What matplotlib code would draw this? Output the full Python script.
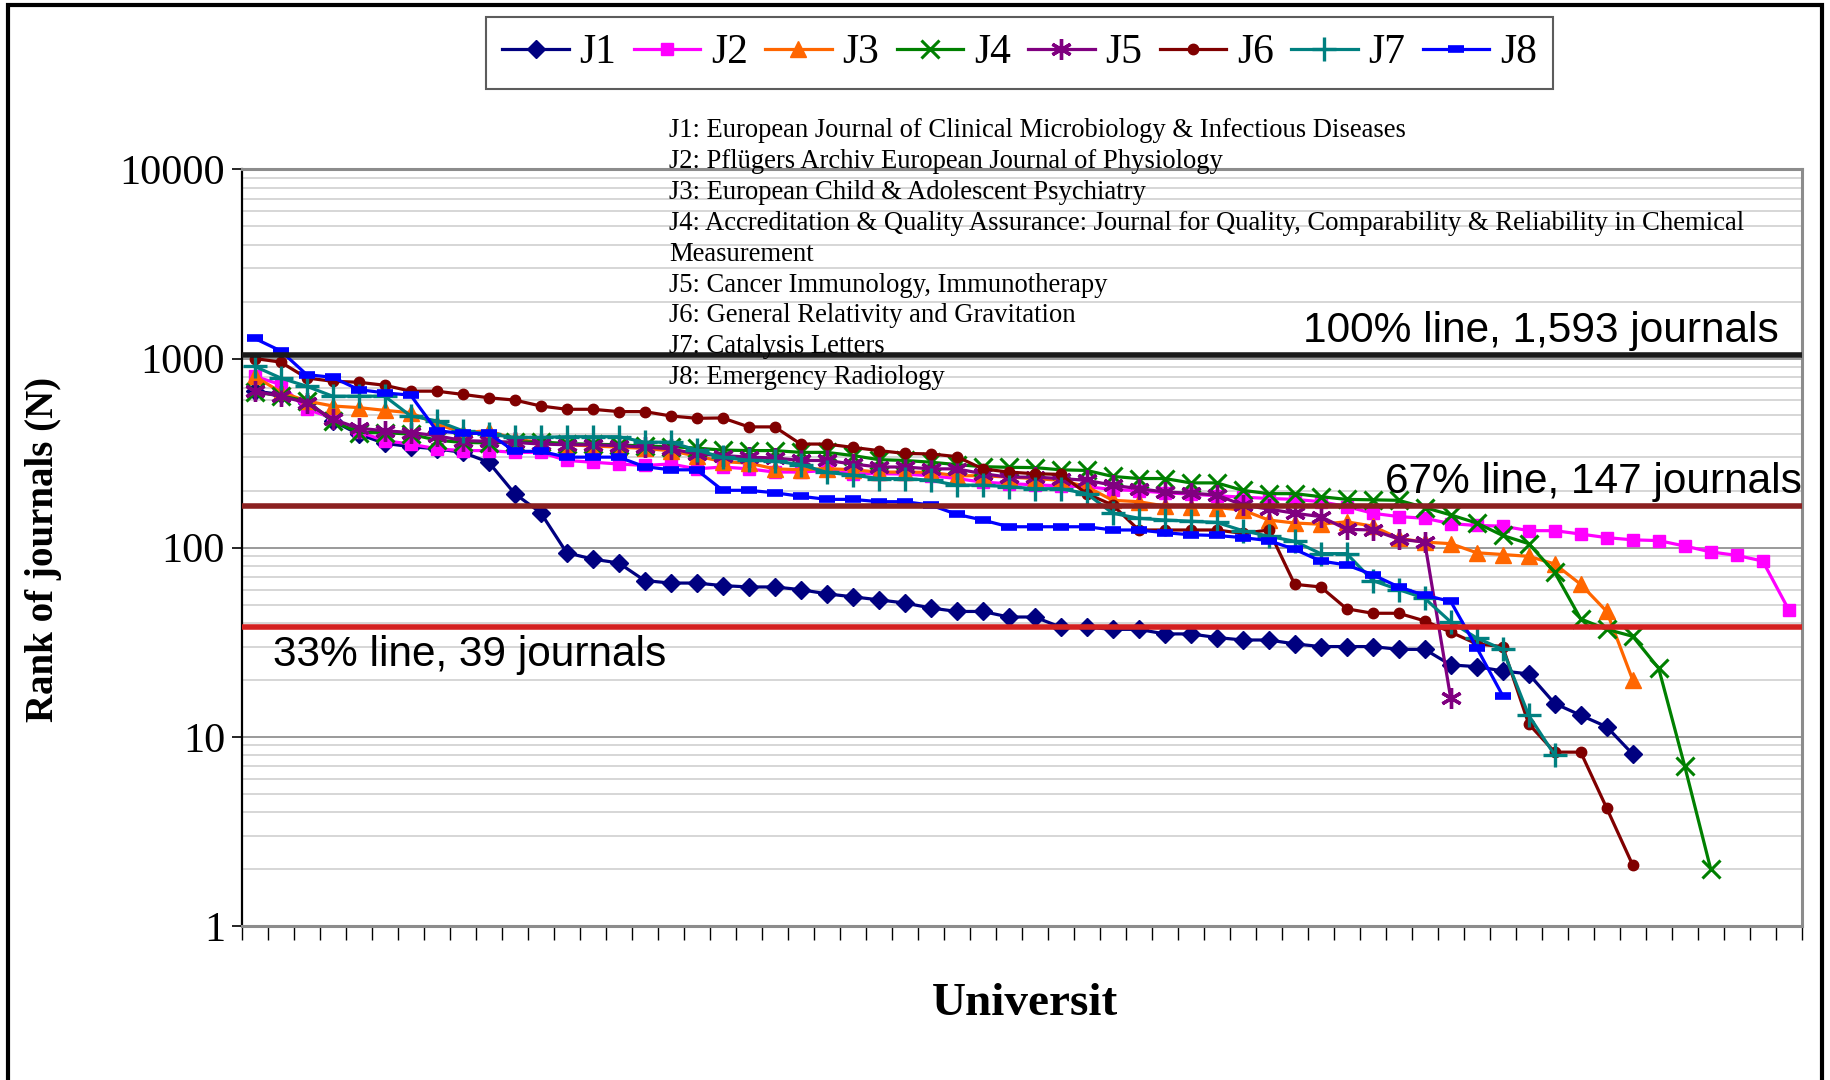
import numpy as np
import matplotlib.pyplot as plt
from matplotlib.patches import Rectangle

plt.rcParams['font.family'] = ['Liberation Serif', 'DejaVu Serif']

# Ranks, one list per journal (universities in order)
j1 = [672, 646, 583, 468, 398, 356, 342, 333, 319, 283, 193, 153,
      94, 87, 83, 67, 65, 65, 63, 62, 62, 60, 57, 55,
      53, 51, 48, 46, 46, 43, 43, 38, 38, 37, 37, 35,
      35, 33.5, 32.5, 32.5, 31, 30, 30, 30, 29, 29, 24, 23.5,
      22.3, 21.5, 15, 13, 11.3, 8.1]
j2 = [805, 728, 539, 485, 410, 368, 353, 333, 326, 326, 319, 319,
      289, 283, 277, 272, 277, 261, 267, 261, 251, 251, 256, 246,
      246, 245, 240, 232, 222, 218, 215, 212, 210, 203, 200, 195,
      192, 188, 185, 182, 180, 175, 165, 152, 146, 143, 134, 131,
      130, 123, 123, 118, 113, 110, 109, 102, 95, 91, 85, 47]
j3 = [805, 665, 596, 561, 550, 532, 517, 450, 406, 415, 375, 360,
      350, 345, 340, 335, 325, 305, 285, 280, 261, 258, 262, 258,
      251, 251, 250, 240, 240, 236, 232, 227, 210, 178, 175, 166,
      165, 163, 158, 140, 135, 133, 137, 130, 112, 107, 105, 94,
      92, 90, 82, 64, 46, 20]
j4 = [665, 635, 596, 468, 406, 406, 398, 370, 360, 358, 362, 362,
      355, 352, 350, 344, 342, 336, 328, 326, 326, 319, 319, 307,
      292, 289, 283, 275, 268, 266, 265, 258, 256, 238, 232, 232,
      220, 220, 201, 193, 193, 186, 180, 179, 178, 163, 149, 135,
      116, 105, 74, 42, 37, 34, 23, 7, 2]
j5 = [672, 632, 583, 478, 428, 415, 406, 391, 368, 365, 360, 353,
      350, 350, 346, 340, 333, 313, 307, 301, 298, 289, 289, 277,
      267, 267, 261, 261, 246, 236, 236, 232, 227, 214, 205, 197,
      194, 190, 168, 160, 152, 146, 125, 124, 111, 107, 16]
j6 = [1000, 957, 789, 758, 749, 722, 672, 672, 646, 620, 603, 561,
      539, 539, 524, 524, 497, 483, 485, 435, 435, 353, 353, 339,
      326, 315, 313, 303, 261, 251, 246, 244, 193, 168, 124, 124,
      124, 124, 119, 124, 64, 62, 47.5, 45, 45, 41, 35.8, 31,
      30, 11.7, 8.3, 8.3, 4.2, 2.1]
j7 = [908, 789, 713, 632, 632, 632, 497, 468, 415, 398, 383, 383,
      386, 386, 386, 361, 361, 328, 300, 290, 287, 275, 250, 242,
      232, 232, 227, 214, 214, 210, 205, 205, 193, 152, 143, 140,
      138, 136, 123, 115, 108, 93, 93, 67, 60, 54, 40.5, 33.3,
      29, 13, 8]
j8 = [1277, 1097, 822, 795, 685, 658, 640, 415, 402, 402, 323, 323,
      301, 301, 301, 268, 258, 258, 201, 201, 195, 187, 180, 180,
      175, 175, 168, 150, 140, 129, 129, 129, 129, 124, 124, 120,
      117, 116, 113, 109, 98, 85, 81, 72, 62, 56, 52, 29.6, 16.5]

names = ['J1', 'J2', 'J3', 'J4', 'J5', 'J6', 'J7', 'J8']
series = [j1, j2, j3, j4, j5, j6, j7, j8]
n_univ = 60

journal_notes = [
    "J1: European Journal of Clinical Microbiology & Infectious Diseases",
    "J2: Pflügers Archiv European Journal of Physiology",
    "J3: European Child & Adolescent Psychiatry",
    "J4: Accreditation & Quality Assurance: Journal for Quality, Comparability & Reliability in Chemical",
    "Measurement",
    "J5: Cancer Immunology, Immunotherapy",
    "J6: General Relativity and Gravitation",
    "J7: Catalysis Letters",
    "J8: Emergency Radiology",
]

line_100 = 1040
line_67 = 167
line_33 = 38

colors = ['#000080', '#FF00FF', '#FF6600', '#008000', '#800080', '#800000', '#008080', '#0000FF']
markers = ['D', 's', '^', 'x', (6, 2, 0), 'o', '+', '_']
msizes = [9, 8.5, 11, 13, 15, 7.5, 17, 11]
mews = [1, 1, 1, 2.2, 2.4, 1, 2.4, 5.5]

fig = plt.figure(figsize=(18.31, 10.80), dpi=100)
ax = fig.add_axes([0.132, 0.1426, 0.852, 0.7006])

ax.set_yscale('log')
ax.set_ylim(1, 10000)
ax.set_xlim(0, n_univ)

# grid
ax.set_axisbelow(True)
ax.yaxis.grid(True, which='minor', color='#CFCFCF', lw=1.2)
ax.yaxis.grid(True, which='major', color='#9A9A9A', lw=1.4)
ax.xaxis.grid(False)

for name, vals, c, m, ms, mew in zip(names, series, colors, markers, msizes, mews):
    x = np.arange(len(vals)) + 0.5
    ax.plot(x, vals, color=c, lw=2.3, marker=m, markersize=ms,
            markeredgewidth=mew, markerfacecolor=c, markeredgecolor=c,
            label=name, zorder=3)

# reference lines
ax.axhline(line_100, color='#1A1A1A', lw=4, zorder=4)
ax.axhline(line_67, color='#8B2020', lw=4, zorder=4)
ax.axhline(line_33, color='#D42020', lw=4, zorder=4)

ax.text(0.985, line_100 * 1.05, "100% line, 1,593 journals", transform=ax.get_yaxis_transform(),
        ha='right', va='bottom', fontsize=30.5, family='Liberation Sans', zorder=5)
ax.text(1.0, line_67 * 1.05, "67% line, 147 journals", transform=ax.get_yaxis_transform(),
        ha='right', va='bottom', fontsize=30.5, family='Liberation Sans', zorder=5)
ax.text(0.02, line_33 * 0.91, "33% line, 39 journals", transform=ax.get_yaxis_transform(),
        ha='left', va='top', fontsize=30.5, family='Liberation Sans', zorder=5)

# axes styling
ax.set_xticks(np.arange(0, n_univ + 1))
ax.set_xticklabels([])
ax.tick_params(axis='x', direction='out', length=10, width=1, color='black')
ax.set_yticks([1, 10, 100, 1000, 10000])
ax.set_yticklabels(['1', '10', '100', '1000', '10000'])
ax.yaxis.set_minor_formatter(plt.NullFormatter())
ax.tick_params(axis='y', which='major', direction='out', length=7, width=1.2,
               labelsize=30.5, pad=5)
ax.tick_params(axis='y', which='minor', length=0)
ax.spines['left'].set_color('black')
ax.spines['left'].set_linewidth(1.6)
for s in ['bottom', 'top', 'right']:
    ax.spines[s].set_color('#8C8C8C')
    ax.spines[s].set_linewidth(2.2)

# journal names block
for k, t in enumerate(journal_notes):
    fig.text(669 / 1831, 1 - (131 + 30.8 * k) / 1080, t, ha='left', va='center',
             fontsize=19.2)

fig.text(44 / 1831, 0.4917, "Rank of journals (N)", rotation=90, ha='center', va='center',
         fontsize=28, fontweight='bold')
fig.text(0.5598, 0.0704, "Universit", ha='center', va='center', fontsize=34,
         fontweight='bold')

leg = fig.legend(loc='center', bbox_to_anchor=(0.5568, 0.951), ncol=8, fontsize=30,
                 handlelength=1.6, handletextpad=0.25, columnspacing=0.42,
                 frameon=True, fancybox=False, borderpad=0.4)
leg.get_frame().set_edgecolor('#333333')
leg.get_frame().set_linewidth(1.5)

# outer frame
fig.patches.append(Rectangle((8 / 1831, -0.05), (1822 - 8) / 1831, 1.05 - 5 / 1080,
                             transform=fig.transFigure, fill=False, edgecolor='black',
                             lw=3))

fig.savefig('out.png', dpi=100)
